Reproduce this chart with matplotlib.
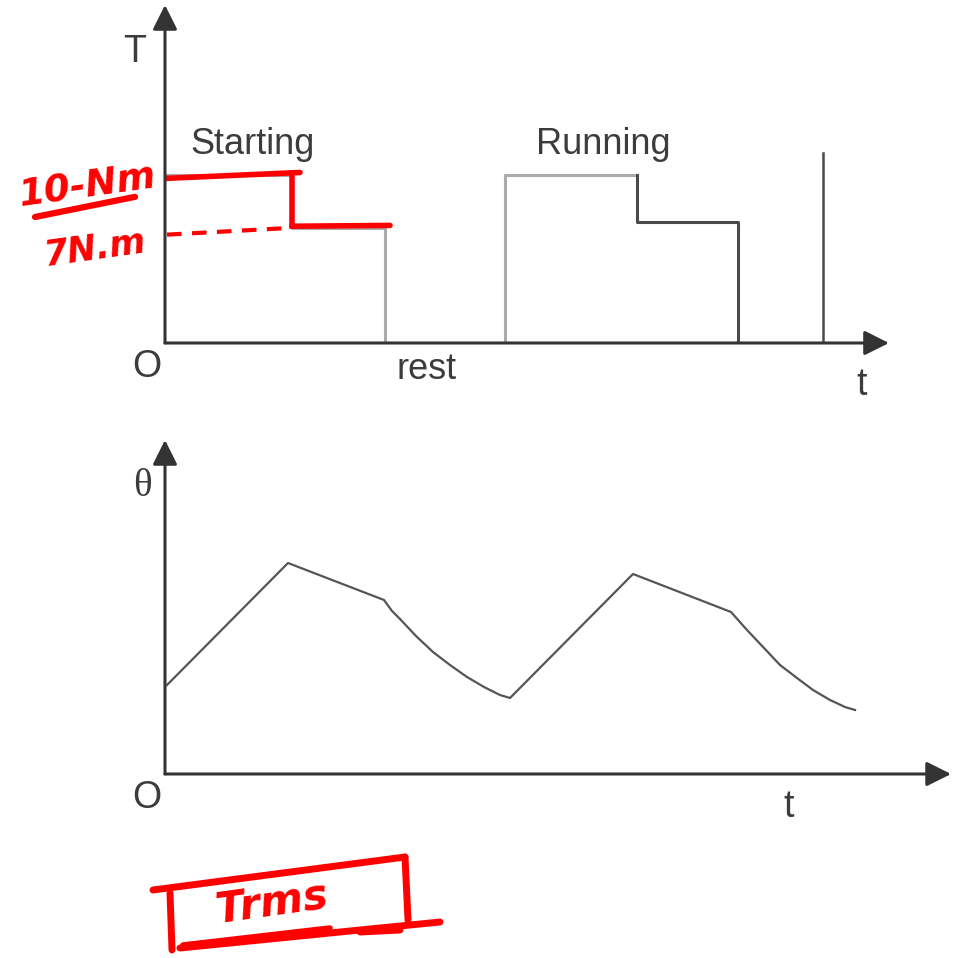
import matplotlib
matplotlib.use("Agg")
import matplotlib.pyplot as plt
from matplotlib.lines import Line2D

# ---------------- data ----------------
# Torque diagram (t in arbitrary time units, T in N·m)
start_t = [0, 12.7, 12.7, 22.0, 22.0]
start_T = [10, 10, 6.85, 6.85, 0]
run1_t = [34.0, 34.0, 47.2]
run1_T = [0, 10, 10]
run2_t = [47.2, 47.2, 57.3, 57.3]
run2_T = [10, 7.2, 7.2, 0]
spike_t = [65.8, 65.8]
spike_T = [0, 11.3]
T_high, T_low = 10, 7
T_high_label, T_low_label = "10-Nm", "7N.m"

# Temperature diagram
theta_t = [0.2, 12.3, 21.9, 22.7, 23.5, 25.1, 26.8, 28.5, 30.2, 31.9, 33.5, 34.5,
           46.8, 56.6, 58.2, 59.9, 61.5, 63.2, 64.8, 66.5, 68.0, 69.0]
theta_v = [8.9, 21.1, 17.4, 16.3, 15.5, 13.8, 12.2, 10.9, 9.7, 8.7, 7.9, 7.6,
           20.0, 16.2, 14.4, 12.6, 10.9, 9.6, 8.4, 7.4, 6.7, 6.4]

GRAY_L = "#ababab"
GRAY_D = "#4a4a4a"
TXT = "#3c3c3c"
RED = "#ff0000"

W, H = 962, 958
fig = plt.figure(figsize=(W / 100, H / 100), dpi=100)

def px_axes(x0, x1, y_top, y_bot, xscale, yscale):
    ax = fig.add_axes([x0 / W, 1 - y_bot / H, (x1 - x0) / W, (y_bot - y_top) / H])
    ax.set_xlim(0, (x1 - x0) / xscale)
    ax.set_ylim(0, (y_bot - y_top) / yscale)
    ax.set_axis_off()
    return ax

# ---------------- top: torque ----------------
ax1 = px_axes(165, 900, 5, 343, 10, 16.8)
arrow = dict(arrowstyle="-|>,head_length=1.5,head_width=0.75", color="#333333", lw=2.2,
             shrinkA=0, shrinkB=0)
ax1.annotate("", xy=(0, 1.0), xytext=(0, 0), xycoords="axes fraction", arrowprops=arrow)
ax1.annotate("", xy=(0.985, 0), xytext=(0, 0), xycoords="axes fraction", arrowprops=arrow)

ax1.plot(start_t, start_T, color=GRAY_L, lw=2.2)
ax1.plot(run1_t, run1_T, color=GRAY_L, lw=2.2)
ax1.plot(run2_t, run2_T, color=GRAY_D, lw=2.2)
ax1.plot(spike_t, spike_T, color=GRAY_D, lw=1.8)

font = dict(family=["Liberation Sans", "DejaVu Sans"], color=TXT)
ax1.text(8.8, 10.8, "Starting", fontsize=26, ha="center", va="bottom", **font)
ax1.text(43.8, 10.8, "Running", fontsize=26, ha="center", va="bottom", **font)
ax1.text(-3.0, 17.3, "T", fontsize=27, ha="center", va="center", clip_on=False, **font)
ax1.text(-1.8, -1.45, "O", fontsize=27, ha="center", va="center", clip_on=False, **font)
ax1.text(26.2, -1.6, "rest", fontsize=26, ha="center", va="center", clip_on=False, **font)
ax1.text(69.7, -2.5, "t", fontsize=27, ha="center", va="center", clip_on=False, **font)

# red handwritten annotations (torque levels)
ax1.plot([0.1, 13.5], [T_high - 0.2, T_high + 0.15], color=RED, lw=4, solid_capstyle="round")
ax1.plot([12.7, 12.7], [T_high + 0.1, T_low - 0.05], color=RED, lw=4)
ax1.plot([12.7, 22.5], [T_low - 0.05, T_low + 0.0], color=RED, lw=4, solid_capstyle="round")
ax1.plot([0.2, 12.5], [T_low - 0.55, T_low - 0.15], color=RED, lw=3, ls=(0, (3.5, 2.5)))
hand = dict(color=RED, family=["DejaVu Sans"], style="italic", fontweight="bold",
            clip_on=False)
ax1.text(-7.8, 9.3, T_high_label, fontsize=27, rotation=8, ha="center", va="center", **hand)
ax1.plot([-13.0, -3.0], [7.5, 8.7], color=RED, lw=4.5, solid_capstyle="round", clip_on=False)
ax1.text(-7.0, 5.6, T_low_label, fontsize=25, rotation=8, ha="center", va="center", **hand)

# ---------------- bottom: temperature ----------------
ax2 = px_axes(165, 955, 440, 774, 10, 10)
ax2.annotate("", xy=(0, 1.0), xytext=(0, 0), xycoords="axes fraction", arrowprops=arrow)
ax2.annotate("", xy=(0.995, 0), xytext=(0, 0), xycoords="axes fraction", arrowprops=arrow)
ax2.plot(theta_t, theta_v, color="#555555", lw=1.6)
ax2.text(-2.3, 28.8, "θ", fontsize=28, ha="center", va="center", clip_on=False,
         family=["Liberation Serif", "DejaVu Serif"], color=TXT)
ax2.text(-1.8, -2.4, "O", fontsize=27, ha="center", va="center", clip_on=False, **font)
ax2.text(62.4, -3.3, "t", fontsize=27, ha="center", va="center", clip_on=False, **font)

# ---------------- red box with handwritten label ----------------
ov = fig.add_axes([0, 0, 1, 1])
ov.set_xlim(0, W)
ov.set_ylim(H, 0)
ov.set_axis_off()
box_x = [[153, 405], [405, 408], [170, 172], [180, 440], [360, 400]]
box_y = [[890, 857], [857, 920], [893, 950], [948, 922], [932, 930]]
for bx, by in zip(box_x, box_y):
    ov.add_line(Line2D(bx, by, color=RED, lw=5, solid_capstyle="round"))
ov.add_line(Line2D([183, 330], [945, 928], color=RED, lw=4, solid_capstyle="round"))
ov.text(272, 903, "Trms", fontsize=30, rotation=8, ha="center", va="center", **hand)

fig.savefig("out.png", dpi=100)
